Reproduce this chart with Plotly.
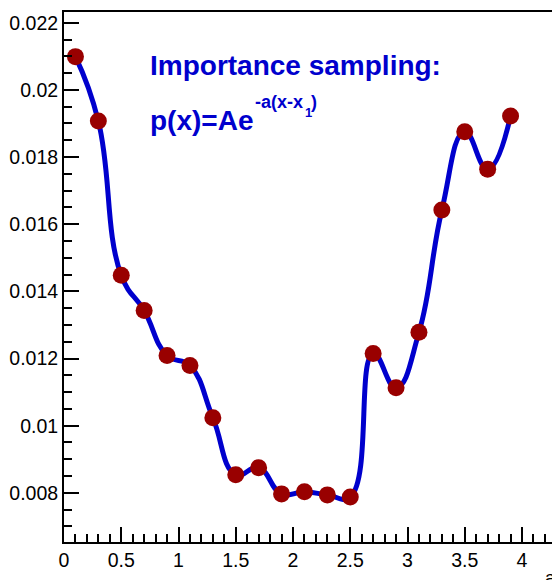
import plotly.graph_objects as go

x_vals = [0.1, 0.3, 0.5, 0.7, 0.9, 1.1, 1.3, 1.5, 1.7, 1.9, 2.1, 2.3, 2.5, 2.7, 2.9, 3.1, 3.3, 3.5, 3.7, 3.9]
y_vals = [0.02099, 0.01907, 0.01448, 0.01343, 0.01209, 0.01179, 0.01024, 0.00854, 0.00875, 0.00797,
          0.00803, 0.00794, 0.00788, 0.01215, 0.01113, 0.01278, 0.01642, 0.01875, 0.01764, 0.01922]

x_tick_vals = [0, 0.5, 1, 1.5, 2, 2.5, 3, 3.5, 4]
x_tick_text = ["0", "0.5", "1", "1.5", "2", "2.5", "3", "3.5", "4"]
y_tick_vals = [0.008, 0.010, 0.012, 0.014, 0.016, 0.018, 0.020, 0.022]
y_tick_text = ["0.008", "0.01", "0.012", "0.014", "0.016", "0.018", "0.02", "0.022"]

title_line1 = "Importance sampling:"
formula_main = "p(x)=Ae"
formula_exp = "-a(x-x"
formula_sub = "1"
formula_close = ")"
x_title = "a"

font_family = "Liberation Sans, Arial, Helvetica, sans-serif"
blue = "rgb(0,0,205)"

W, H = 552, 580
ml, mt, mb, mr = 64, 12, 38, 0

def px_x(px):
    return (px - ml) / (W - ml - mr)

def px_y(py):
    return 1 - (py - mt) / (H - mt - mb)

fig = go.Figure()
fig.add_trace(go.Scatter(
    x=x_vals, y=y_vals, mode="lines",
    line=dict(color=blue, width=5, shape="spline", smoothing=1.3),
    hoverinfo="skip", showlegend=False,
))
fig.add_trace(go.Scatter(
    x=x_vals, y=y_vals, mode="markers",
    marker=dict(color="rgb(153,0,0)", size=17, line=dict(width=0)),
    showlegend=False,
))

def add_text(text, left, baseline, size, color=blue, bold=True):
    t = "<b>" + text + "</b>" if bold else text
    fig.add_annotation(x=px_x(left - 2), y=px_y(baseline - 0.347 * size), xref="paper", yref="paper",
                       text=t, showarrow=False, xanchor="left", yanchor="middle",
                       font=dict(family=font_family, size=size, color=color))

add_text(title_line1, 150, 75, 28)
add_text(formula_main, 150, 130, 28)
add_text(formula_exp, 255, 108, 18)
add_text(formula_sub, 305, 117, 13)
add_text(formula_close, 311, 108, 18)
add_text(x_title, 545, 584, 19, color="black", bold=False)

axis_font = dict(family=font_family, size=19.5, color="black")

fig.update_xaxes(
    range=[0, 4.262], showline=True, linecolor="black", linewidth=2, mirror=True,
    ticks="inside", ticklen=15, tickwidth=1.5, tickcolor="black",
    tickvals=x_tick_vals, ticktext=x_tick_text,
    minor=dict(dtick=0.1, tick0=0, ticks="inside", ticklen=8, tickwidth=1.5, tickcolor="black"),
    showgrid=False, zeroline=False, tickfont=axis_font,
)
fig.update_yaxes(
    range=[0.006537, 0.022319], showline=True, linecolor="black", linewidth=2, mirror=False,
    ticks="inside", ticklen=15, tickwidth=1.5, tickcolor="black",
    tickvals=y_tick_vals, ticktext=y_tick_text,
    minor=dict(dtick=0.0005, tick0=0, ticks="inside", ticklen=8, tickwidth=1.5, tickcolor="black"),
    showgrid=False, zeroline=False, tickfont=axis_font,
)
fig.update_layout(
    width=W, height=H,
    margin=dict(l=ml, r=mr, t=mt, b=mb, pad=0),
    paper_bgcolor="white", plot_bgcolor="white",
)
fig.write_html("out.html")
